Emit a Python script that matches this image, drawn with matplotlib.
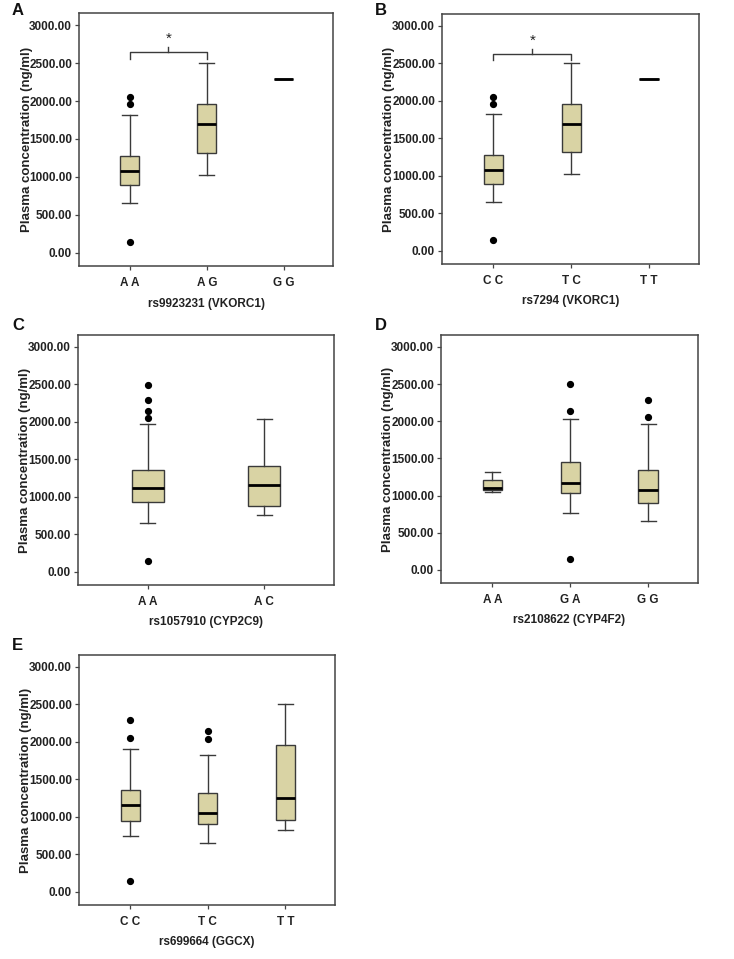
import matplotlib
matplotlib.use("Agg")
import matplotlib.pyplot as plt

plt.rcParams['font.family'] = ['Liberation Sans', 'DejaVu Sans']

# ---- data: whislo, q1, med, q3, whishi, fliers ----
cats_A = ["A A", "A G", "G G"]
stats_A = [
    [651, 897, 1082, 1276, 1821, [2054, 1957, 141]],
    [1025, 1315, 1694, 1957, 2503, []],
    [2290, 2290, 2290, 2290, 2290, []],
]
xlabel_A = "rs9923231 (VKORC1)"

cats_B = ["C C", "T C", "T T"]
stats_B = [
    [654, 895, 1082, 1277, 1820, [2056, 1958, 142]],
    [1024, 1322, 1696, 1954, 2506, []],
    [2292, 2292, 2292, 2292, 2292, []],
]
xlabel_B = "rs7294 (VKORC1)"

cats_C = ["A A", "A C"]
stats_C = [
    [656, 926, 1125, 1356, 1967, [2499, 2295, 2149, 2056, 151]],
    [762, 882, 1161, 1409, 2038, []],
]
xlabel_C = "rs1057910 (CYP2C9)"

cats_D = ["A A", "G A", "G G"]
stats_D = [
    [1051, 1073, 1109, 1208, 1320, []],
    [772, 1042, 1168, 1455, 2034, [2497, 2142, 148]],
    [656, 898, 1082, 1343, 1963, [2290, 2052]],
]
xlabel_D = "rs2108622 (CYP4F2)"

cats_E = ["C C", "T C", "T T"]
stats_E = [
    [752, 944, 1157, 1362, 1901, [2297, 2056, 142]],
    [654, 899, 1055, 1322, 1825, [2145, 2043]],
    [819, 961, 1255, 1958, 2501, []],
]
xlabel_E = "rs699664 (GGCX)"

# significance brackets: (left category index, right category index, level)
sig_A = (0, 1, 2650)
sig_B = (0, 1, 2630)

yticks = [0, 500, 1000, 1500, 2000, 2500, 3000]

W, H = 734, 959
fig = plt.figure(figsize=(W / 100, H / 100), dpi=100)

FILL = "#D9D3A4"
EDGE = "#3a3a3a"


def rect(l, t, r, b):
    return [l / W, 1 - b / H, (r - l) / W, (b - t) / H]


def panel(pos, cats, stats, xlabel, letter, letter_xy, sig=None):
    ax = fig.add_axes(rect(*pos))
    n = len(cats)
    positions = list(range(1, n + 1))
    if n == 2:
        width, capw = 0.27, 0.13
        ax.set_xlim(0.4, 2.6)
    else:
        width, capw = 0.25, 0.195
        ax.set_xlim(0.34, 3.64)
    bst = []
    for s in stats:
        bst.append(dict(whislo=s[0], q1=s[1], med=s[2], q3=s[3], whishi=s[4],
                        fliers=s[5]))
    ax.bxp(bst, positions=positions, widths=width, capwidths=capw,
           patch_artist=True, showfliers=True,
           boxprops=dict(facecolor=FILL, edgecolor=EDGE, linewidth=1.0),
           medianprops=dict(color="black", linewidth=2.0),
           whiskerprops=dict(color=EDGE, linewidth=1.0),
           capprops=dict(color=EDGE, linewidth=1.0),
           flierprops=dict(marker="o", markerfacecolor="black",
                           markeredgecolor="black", markersize=4.2,
                           linestyle="none"))
    ax.set_ylim(-175, 3160)
    ax.set_yticks(yticks)
    ax.set_yticklabels([f"{v:.2f}" for v in yticks])
    ax.set_xticks(positions)
    ax.set_xticklabels(cats)
    for sp in ax.spines.values():
        sp.set_color("#444444")
        sp.set_linewidth(1.1)
    ax.tick_params(axis="both", length=3, width=0.9, color="#444444",
                   labelsize=8.5, pad=2)
    for lab in ax.get_yticklabels() + ax.get_xticklabels():
        lab.set_fontweight("bold")
        lab.set_color("#222222")
    ax.tick_params(axis="x", pad=5)
    ax.set_ylabel("Plasma concentration (ng/ml)", fontsize=9.5,
                  fontweight="bold", color="#222222")
    ax.yaxis.set_label_coords(-0.183, 0.5)
    ax.set_xlabel(xlabel, fontsize=8.5, fontweight="bold", color="#222222")
    ax.xaxis.set_label_coords(0.5, -0.125)
    if sig is not None:
        i, j, lvl = sig
        x1, x2 = positions[i], positions[j]
        ax.plot([x1, x1, x2, x2], [lvl - 90, lvl, lvl, lvl - 90],
                color=EDGE, lw=1.0)
        xm = (x1 + x2) / 2
        ax.plot([xm, xm], [lvl, lvl + 60], color=EDGE, lw=1.0)
        ax.text(xm, lvl + 80, "*", ha="center", va="bottom", fontsize=11,
                color="#222222")
    fig.text(letter_xy[0] / W, 1 - letter_xy[1] / H, letter, fontsize=12,
             fontweight="bold", ha="left", va="top", color="#111111")
    return ax


panel((79, 13, 333, 266), cats_A, stats_A, xlabel_A, "A", (12, 3), sig_A)
panel((442, 14, 699, 264), cats_B, stats_B, xlabel_B, "B", (375, 3), sig_B)
panel((78, 335, 334, 585), cats_C, stats_C, xlabel_C, "C", (12, 318))
panel((441, 335, 698, 583), cats_D, stats_D, xlabel_D, "D", (375, 318))
panel((79, 655, 335, 905), cats_E, stats_E, xlabel_E, "E", (12, 638))

fig.savefig("out.png", dpi=100, facecolor="white")
